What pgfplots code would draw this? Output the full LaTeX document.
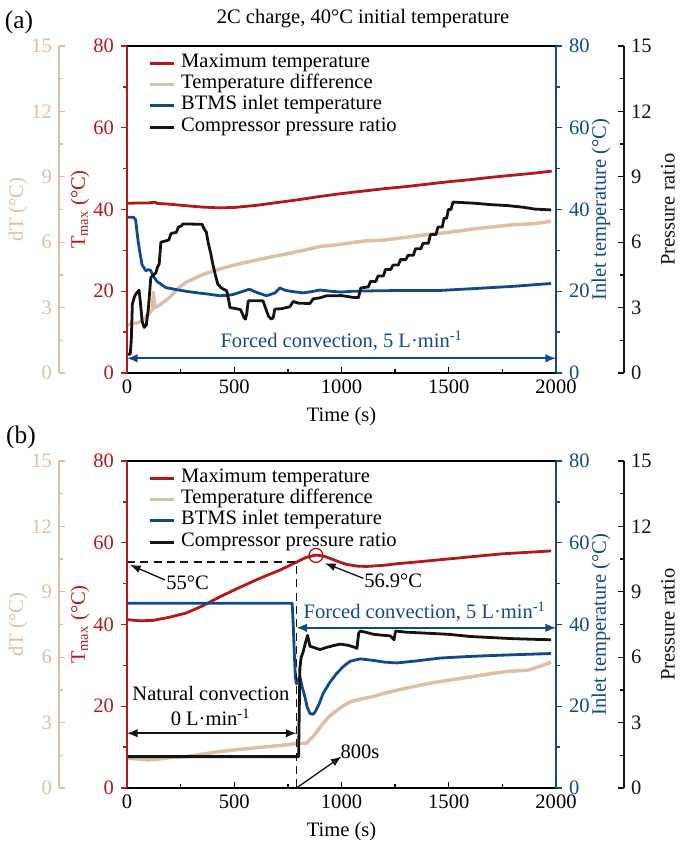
\documentclass[border=0pt]{standalone}
\usepackage{pgfplots}
\pgfplotsset{compat=1.18}
\usepackage{fontspec}
\setmainfont{Liberation Serif}
\usetikzlibrary{arrows.meta}
\definecolor{tcred}{RGB}{180,25,25}
\definecolor{tctan}{RGB}{222,190,165}
\definecolor{tcblue}{RGB}{18,72,142}
\definecolor{tcblack}{RGB}{20,20,20}
\tikzset{arr/.style={line width=1.2pt, {Latex[length=8pt,width=6.5pt]}-{Latex[length=8pt,width=6.5pt]}},
 crv/.style={line width=2.1pt, line join=round}}
\pgfplotsset{
 base/.style={scale only axis, width=321.75pt, height=245.25pt, xmin=0, xmax=2000,
  /pgf/number format/assume math mode=true, /pgf/number format/1000 sep={},
  major tick length=4.5pt, minor tick length=3pt, clip mode=individual},
 hidden/.style={base, hide axis},
 yside/.style={scale only axis, height=245.25pt, width=10pt, xmin=0, xmax=1,
  axis x line=none, /pgf/number format/assume math mode=true,
  major tick length=4.5pt, minor tick length=3pt, minor y tick num=1},
 mainax/.style={base, axis x line=box, axis y line=none, ymin=0, ymax=80,
  xtick={0,500,...,2000}, minor x tick num=1, xtick pos=left, tick align=inside,
  axis line style={line width=1pt}, tick style={line width=1pt, black},
  xlabel={Time (s)},
  every axis x label/.style={at={(axis description cs:0.5,0)}, anchor=center, yshift=-33pt},
  legend style={draw=none, fill=none, at={(0,1)}, anchor=north west, xshift=15.75pt, yshift=-4.7pt,
   inner sep=0pt, row sep=0pt, column sep=4.5pt, nodes={inner sep=0pt, text height=11pt, text depth=5pt}},
  legend cell align=left,
  legend image code/.code={\draw[##1, line width=2.2pt] (0pt,0pt) -- (18pt,0pt);}},
}
\newcommand{\yaxes}[1]{%
 \begin{axis}[yside, at={(95.25pt,#1)}, anchor=south west, axis y line*=left, ymin=0, ymax=80,
  ytick={0,20,...,80}, tick align=outside, axis line style={draw=tcred, line width=1pt},
  tick style={draw=tcred, line width=1pt}, yticklabel style={text=tcred},
  ylabel={T\textsubscript{max} (°C)},
  every axis y label/.style={at={(axis description cs:0,0.5)}, xshift=-35.25pt, rotate=90, anchor=center, text=tcred}]
 \end{axis}
 \begin{axis}[yside, at={(417pt,#1)}, anchor=south east, axis y line*=right, ymin=0, ymax=80,
  ytick={0,20,...,80}, tick align=outside, axis line style={draw=tcblue, line width=1pt},
  tick style={draw=tcblue, line width=1pt}, yticklabel style={text=tcblue},
  ylabel={Inlet temperature (°C)},
  every axis y label/.style={at={(axis description cs:1,0.5)}, xshift=33.75pt, rotate=90, anchor=center, text=tcblue}]
 \end{axis}
 \begin{axis}[yside, at={(44.25pt,#1)}, anchor=south west, axis y line*=left, ymin=0, ymax=15,
  ytick={0,3,...,15}, tick align=inside, axis line style={draw=tctan, line width=1pt},
  tick style={draw=tctan, line width=1pt}, yticklabel style={text=tctan},
  ylabel={dT (°C)},
  every axis y label/.style={at={(axis description cs:0,0.5)}, xshift=-30.75pt, rotate=90, anchor=center, text=tctan}]
 \end{axis}
 \begin{axis}[yside, at={(468pt,#1)}, anchor=south east, axis y line*=right, ymin=0, ymax=15,
  ytick={0,3,...,15}, tick align=inside, axis line style={draw=tcblack, line width=1pt},
  tick style={draw=tcblack, line width=1pt}, yticklabel style={text=tcblack},
  ylabel={Pressure ratio},
  every axis y label/.style={at={(axis description cs:1,0.5)}, xshift=33pt, rotate=90, anchor=center, text=tcblack}]
 \end{axis}%
}
\begin{document}
\fontsize{15.4pt}{18pt}\selectfont
\begin{tikzpicture}
\useasboundingbox (0,0) rectangle (514.5pt,-636pt);
\node[font=\fontsize{19pt}{22pt}\selectfont] at (14.25pt,-16.5pt) {(a)};
\node at (272.25pt,-14.25pt) {2C charge, 40°C initial temperature};
\node[font=\fontsize{19pt}{22pt}\selectfont] at (15.75pt,-327.75pt) {(b)};

%%%%%%%%%%%%%%%% PANEL (a)
\begin{axis}[hidden, at={(95.25pt,-279.75pt)}, anchor=south west, ymin=0, ymax=15]
\addplot[tctan, line width=2.6pt, line join=round] coordinates {
(0,2.2)(20,2.25)(50,2.3)(70,2.4)(100,2.7)(118,2.9)(123,3.7)(129,3.0)(150,3.1)(197,3.46)(240,3.9)(275,4.16)(350,4.5)(431,4.77)(500,4.95)(587,5.15)(660,5.3)(743,5.46)(820,5.62)(899,5.8)(993,5.9)(1100,6.05)(1200,6.1)(1305,6.23)(1400,6.35)(1500,6.45)(1617,6.61)(1700,6.7)(1800,6.8)(1900,6.85)(1977,6.96)};
\end{axis}
\begin{axis}[mainax, at={(95.25pt,-279.75pt)}, anchor=south west]
\addplot[tcred, crv] coordinates {
(0,41.5)(50,41.6)(100,41.6)(130,41.8)(140,41.5)(200,41.3)(280,40.9)(350,40.6)(430,40.4)(500,40.5)(600,41.0)(700,41.7)(800,42.4)(900,43.2)(1000,43.9)(1100,44.5)(1200,45.1)(1300,45.6)(1400,46.2)(1500,46.8)(1600,47.3)(1700,47.9)(1800,48.4)(1900,48.9)(1980,49.4)};
\addlegendentry{Maximum temperature}
\addlegendimage{tctan}
\addlegendentry{Temperature difference}
\addplot[tcblue, crv] coordinates {
(0,38.1)(30,38.1)(40,37.5)(50,33)(56,30.8)(70,26.5)(88,25.0)(100,25.3)(110,25.1)(125,23.5)(140,22.4)(181,20.9)(230,20.4)(275,20.0)(330,19.6)(380,19.3)(431,18.9)(470,19.0)(494,19.2)(530,19.8)(571,20.5)(600,19.8)(650,18.9)(690,19.6)(712,20.8)(740,20.2)(775,19.9)(820,19.6)(860,19.9)(900,20.3)(950,20.0)(1000,19.8)(1050,20.0)(1150,20.1)(1300,20.2)(1461,20.2)(1600,20.6)(1800,21.2)(1977,21.9)};
\addlegendentry{BTMS inlet temperature}
\addlegendimage{tcblack}
\addlegendentry{Compressor pressure ratio}
\draw[tcblue, arr] (axis cs:0,3.6) -- (axis cs:2000,3.6);
\node[text=tcblue] at (axis cs:1000,7.8) {Forced convection, 5 L·min\textsuperscript{-1}};
\end{axis}
\begin{axis}[hidden, at={(95.25pt,-279.75pt)}, anchor=south west, ymin=0, ymax=15]
\addplot[tcblack, crv] coordinates {
(0,0.86)(15,0.86)(20,1.5)(25,3.16)(35,3.5)(41,3.62)(56,3.8)(62,3.3)(70,2.4)(80,2.09)(90,2.2)(100,3.0)(111,4.39)(125,4.5)(135,4.6)(142,4.85)(150,5.0)(158,6.0)(195,6.1)(205,6.4)(230,6.45)(240,6.7)(255,6.75)(260,6.84)(350,6.82)(360,6.6)(370,6.46)(378,6.0)(390,5.5)(400,5.0)(412,4.5)(423,4.08)(440,3.9)(465,3.77)(475,3.3)(480,3.0)(510,2.95)(530,2.9)(545,2.55)(552,2.47)(558,2.7)(565,3.31)(634,3.31)(645,3.0)(660,2.6)(673,2.47)(682,2.55)(689,2.93)(720,2.95)(759,3.04)(775,3.28)(800,3.2)(853,3.19)(868,3.4)(900,3.45)(930,3.54)(1000,3.55)(1060,3.46)(1079,3.46)(1090,3.9)(1125,3.95)(1135,4.2)(1160,4.2)(1170,4.45)(1195,4.45)(1205,4.75)(1230,4.75)(1240,4.95)(1265,4.95)(1275,5.2)(1300,5.2)(1310,5.4)(1335,5.4)(1345,5.7)(1370,5.7)(1380,5.95)(1405,5.95)(1415,6.35)(1440,6.35)(1450,6.7)(1470,6.7)(1478,7.1)(1490,7.1)(1498,7.5)(1510,7.5)(1520,7.84)(1617,7.79)(1700,7.72)(1774,7.68)(1850,7.6)(1900,7.52)(1977,7.48)};
\end{axis}
\yaxes{-279.75pt}

%%%%%%%%%%%%%%%% PANEL (b)
\begin{axis}[hidden, at={(95.25pt,-591pt)}, anchor=south west, ymin=0, ymax=15]
\addplot[tctan, line width=2.6pt, line join=round] coordinates {
(0,1.37)(50,1.33)(100,1.29)(150,1.33)(200,1.4)(275,1.44)(350,1.55)(431,1.67)(500,1.75)(587,1.83)(660,1.9)(743,1.98)(795,2.05)(837,2.05)(850,2.2)(868,2.36)(890,2.65)(915,2.98)(945,3.3)(977,3.55)(1010,3.78)(1040,3.95)(1100,4.1)(1149,4.2)(1200,4.35)(1305,4.59)(1400,4.78)(1461,4.89)(1550,5.02)(1617,5.12)(1700,5.25)(1774,5.35)(1868,5.4)(1930,5.6)(1977,5.77)};
\end{axis}
\begin{axis}[mainax, at={(95.25pt,-591pt)}, anchor=south west]
\addplot[tcred, crv] coordinates {
(0,41.2)(60,40.9)(120,41.0)(200,41.8)(275,42.8)(350,44.5)(434,46.8)(510,48.7)(589,50.6)(660,52.2)(713,53.3)(760,54.5)(791,55.3)(834,56.4)(881,57.0)(920,56.7)(950,56.1)(990,55.3)(1024,54.7)(1070,54.3)(1117,54.2)(1200,54.5)(1263,54.9)(1350,55.3)(1450,55.8)(1550,56.3)(1650,56.8)(1750,57.3)(1850,57.6)(1977,58.0)};
\addlegendentry{Maximum temperature}
\addlegendimage{tctan}
\addlegendentry{Temperature difference}
\addplot[tcblue, crv] coordinates {
(0,45.2)(770,45.2)(775,40)(780,33)(785,27)(790,25.5)(798,26.5)(806,27.3)(815,25.0)(829,22.4)(840,19.8)(852,18.3)(865,18.0)(876,18.5)(895,20.5)(915,23.2)(945,25.8)(977,28.0)(1010,29.8)(1040,31.0)(1087,31.6)(1150,31.2)(1200,30.8)(1259,30.6)(1350,31.1)(1461,31.8)(1600,32.2)(1696,32.4)(1800,32.6)(1977,32.9)};
\addlegendentry{BTMS inlet temperature}
\addlegendimage{tcblack}
\addlegendentry{Compressor pressure ratio}
\addplot[only marks, mark=o, mark size=5.25pt, tcred, line width=1pt, forget plot] coordinates {(881,56.9)};
\draw[tcblack, line width=1.4pt, dash pattern=on 6pt off 4pt] (axis cs:0,55.3) -- (axis cs:790,55.3) -- (axis cs:790,0);
\draw[tcblack, line width=1pt, -{Latex[length=8pt,width=6pt]}] (axis cs:177,50.9) -- (axis cs:14,54.6);
\node[anchor=west, inner sep=0pt] at (axis cs:182,50.3) {55°C};
\draw[tcblack, line width=1pt, -{Latex[length=8pt,width=6pt]}] (axis cs:1102,51.3) -- (axis cs:923,55.0);
\node[anchor=west, inner sep=0pt] at (axis cs:1105,50.8) {56.9°C};
\draw[tcblue, arr] (axis cs:790,39.2) -- (axis cs:2000,39.2);
\node[text=tcblue] at (axis cs:1387,43.1) {Forced convection, 5 L·min\textsuperscript{-1}};
\draw[tcblack, arr] (axis cs:0,13.4) -- (axis cs:790,13.4);
\node at (axis cs:391,23.2) {Natural convection};
\node at (axis cs:389,17.4) {0 L·min\textsuperscript{-1}};
\draw[tcblack, line width=1pt, -{Latex[length=8pt,width=6pt]}] (axis cs:790,0) -- (axis cs:1000,7.7);
\node at (axis cs:1086,8.9) {800s};
\end{axis}
\begin{axis}[hidden, at={(95.25pt,-591pt)}, anchor=south west, ymin=0, ymax=15]
\addplot[tcblack, crv] coordinates {
(0,1.44)(800,1.44)(803,3.5)(806,5.5)(812,6.0)(820,6.2)(830,6.6)(842,7.0)(853,6.5)(870,6.45)(900,6.35)(930,6.45)(962,6.53)(993,6.6)(1030,6.55)(1063,6.45)(1072,6.4)(1080,7.1)(1087,7.2)(1110,7.15)(1150,7.05)(1200,7.0)(1227,6.98)(1240,6.85)(1245,6.8)(1252,7.2)(1300,7.15)(1400,7.1)(1500,7.05)(1600,6.95)(1700,6.9)(1800,6.85)(1900,6.82)(1977,6.8)};
\end{axis}
\yaxes{-591pt}
\end{tikzpicture}
\end{document}
